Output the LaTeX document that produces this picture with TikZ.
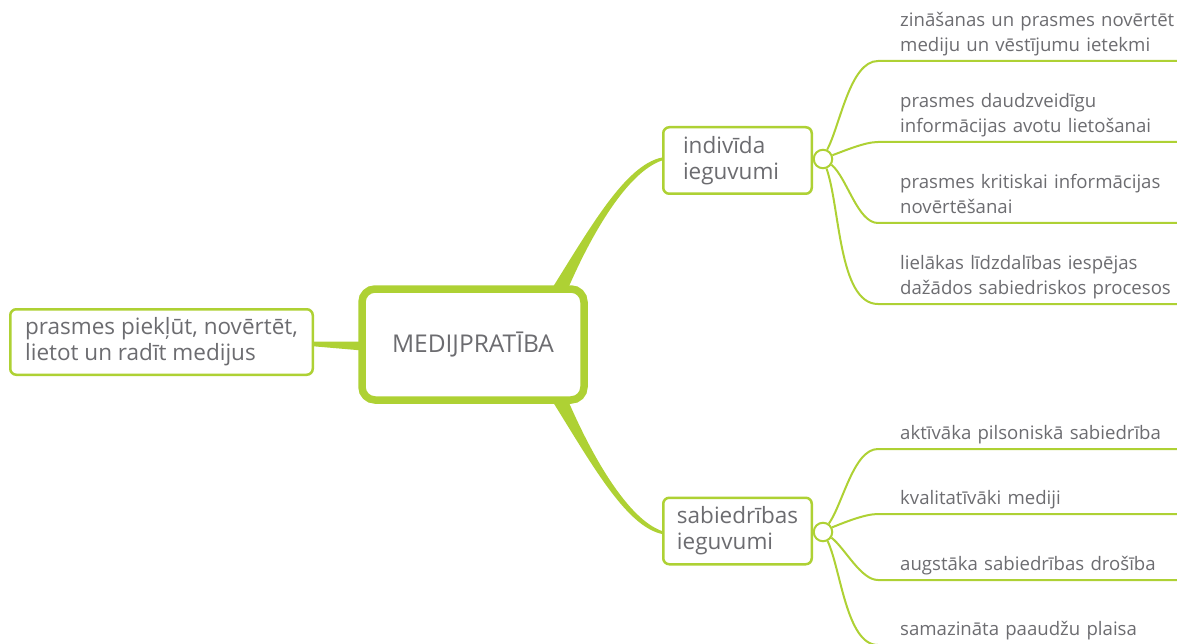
\documentclass[tikz,border=0pt]{standalone}
\usepackage{fontspec}
\setmainfont{Open Sans}
\usetikzlibrary{backgrounds}
\definecolor{mapgreen}{RGB}{174,209,52}
\definecolor{mapgray}{RGB}{108,108,112}
\newcommand{\leaffont}{\fontsize{18.6pt}{25pt}\selectfont}
\newcommand{\topicfont}{\fontsize{22.5pt}{26pt}\selectfont}
\newcommand{\rootfont}{\fontsize{24.5pt}{29pt}\selectfont}

\begin{document}
\begin{tikzpicture}[x=1pt,y=-1pt,
  topic/.style={draw=mapgreen,line width=2.5pt,rounded corners=6pt,fill=white,text=mapgray,align=left,font=\topicfont,inner sep=0pt},
  root/.style={draw=mapgreen,line width=7.5pt,rounded corners=13pt,fill=white,text=mapgray,font=\rootfont,minimum width=222pt,minimum height=111pt},
  hub/.style={circle,draw=mapgreen,line width=2pt,fill=white,minimum size=18.5pt,inner sep=0pt},
  leaf/.style={anchor=south west,inner xsep=0pt,inner ysep=1.5pt,text width=300pt,align=left,text=mapgray,font=\leaffont},
  twig/.style={draw=mapgreen,line width=2pt,looseness=0.7},
  trunk/.style={fill=mapgreen}]
 \useasboundingbox (0,0) rectangle (1177,644);
 \clip (0,0) rectangle (1177,644);

 \node[root] (root) at (473,344.5) {MEDIJPRATĪBA};
 \node[topic,minimum width=302.5pt,minimum height=65.5pt] (lft) at (161.5,342) {prasmes piekļūt, novērtēt,\\lietot un radīt medijus};
 \node[topic,minimum width=148.5pt,minimum height=66.5pt,text width=109pt] (ind) at (737.5,160.5) {indivīda\\ieguvumi};
 \node[topic,minimum width=148.5pt,minimum height=66.5pt] (sab) at (737.5,531) {sabiedrības\\ieguvumi};

 % tapered branches, behind the boxes
 \begin{scope}[on background layer]
 \fill[trunk] ([xshift=-4pt,yshift=0.5pt]lft.east) -- ([xshift=4pt,yshift=3pt]root.west) -- ([xshift=4pt,yshift=-6pt]root.west) -- ([xshift=-4pt,yshift=-4pt]lft.east) -- cycle;
 \fill[trunk] ([xshift=76pt,yshift=-8pt]root.north) .. controls (590,228) and (625,165) .. ([yshift=3pt]ind.west) -- ([yshift=0pt]ind.west) .. controls (628,172) and (592,232) .. ([xshift=93pt,yshift=-8pt]root.north) -- cycle;
 \fill[trunk] ([xshift=76pt,yshift=8pt]root.south) .. controls (590,461) and (625,526) .. ([yshift=-3pt]sab.west) -- ([yshift=0pt]sab.west) .. controls (628,519) and (592,457) .. ([xshift=93pt,yshift=8pt]root.south) -- cycle;
 \end{scope}

 \node[leaf] (i1) at (900,61) {zināšanas un prasmes novērtēt\\mediju un vēstījumu ietekmi\strut};
 \node[leaf] (i2) at (900,142) {prasmes daudzveidīgu\\informācijas avotu lietošanai\strut};
 \node[leaf] (i3) at (900,223) {prasmes kritiskai informācijas\\novērtēšanai\strut};
 \node[leaf] (i4) at (900,304) {lielākas līdzdalības iespējas\\dažādos sabiedriskos procesos\strut};

 \node[leaf] (s1) at (900,449) {aktīvāka pilsoniskā sabiedrība\strut};
 \node[leaf] (s2) at (900,514) {kvalitatīvāki mediji\strut};
 \node[leaf] (s3) at (900,580) {augstāka sabiedrības drošība\strut};
 \node[leaf] (s4) at (900,645) {samazināta paaudžu plaisa\strut};

 \node[hub] (hi) at (823,159) {};
 \node[hub] (hs) at (823,532) {};

 \begin{scope}[on background layer]
 \draw[twig] (hi.66) to[out=62,in=180] ([xshift=-22pt]i1.south west) -- (i1.south east);
 \draw[twig] (hi.22) to[out=20,in=180] ([xshift=-22pt]i2.south west) -- (i2.south east);
 \draw[twig] (hi.-34) to[out=-40,in=180] ([xshift=-22pt]i3.south west) -- (i3.south east);
 \draw[twig] (hi.-70) to[out=-70,in=180] ([xshift=-22pt]i4.south west) -- (i4.south east);
 \draw[twig] (hs.55) to[out=55,in=180] ([xshift=-22pt]s1.south west) -- (s1.south east);
 \draw[twig] (hs.27) to[out=22,in=180] ([xshift=-22pt]s2.south west) -- (s2.south east);
 \draw[twig] (hs.-34) to[out=-38,in=180] ([xshift=-22pt]s3.south west) -- (s3.south east);
 \draw[twig] (hs.-63) to[out=-65,in=180] ([xshift=-22pt]s4.south west) -- (s4.south east);
 \end{scope}
\end{tikzpicture}
\end{document}
